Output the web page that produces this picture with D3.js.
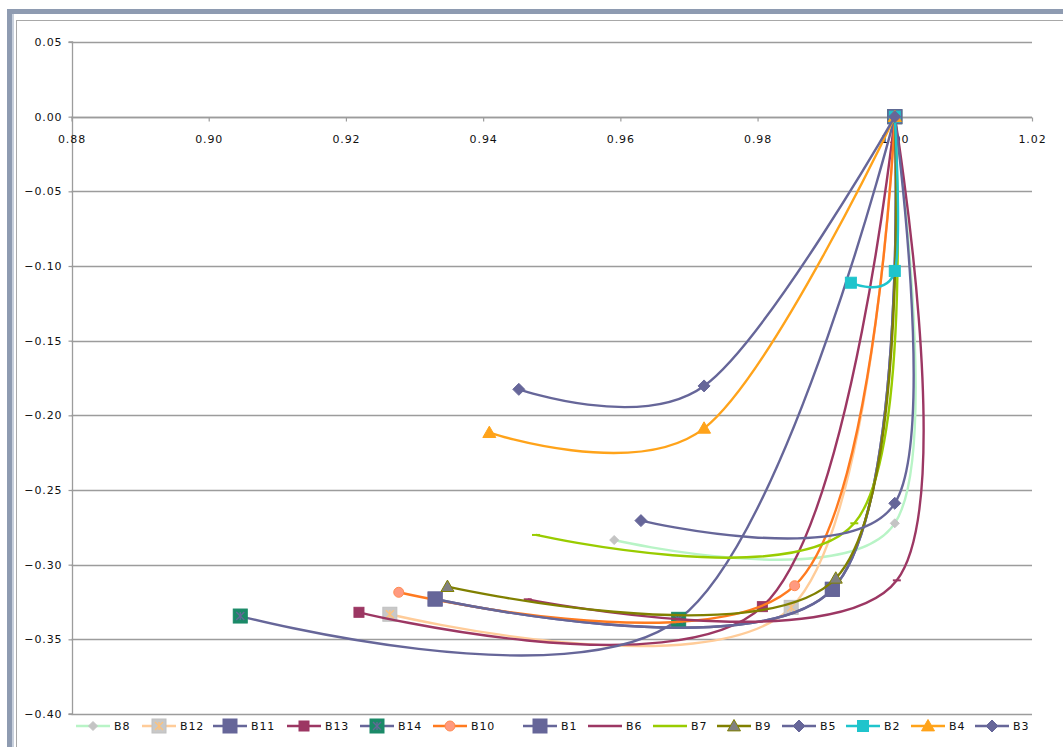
<!DOCTYPE html>
<html>
<head>
<meta charset="utf-8">
<script src="https://cdn.jsdelivr.net/npm/d3@7"></script>
<style>
  html, body { margin: 0; padding: 0; background: #fff; }
  svg { display: block; }
  text { font-family: "DejaVu Sans", Verdana, sans-serif; font-size: 11px; fill: #111; letter-spacing: 0.9px; }
</style>
</head>
<body>
<svg id="chart" width="1063" height="747"></svg>
<script>
// ---- data ----
const seriesNames = ["B8","B12","B11","B13","B14","B10","B1","B6","B7","B9","B5","B2","B4","B3"];
const xTicks = [0.88, 0.90, 0.92, 0.94, 0.96, 0.98, 1.00, 1.02];
const yTicks = [0.05, 0.00, -0.05, -0.10, -0.15, -0.20, -0.25, -0.30, -0.35, -0.40];

const b8  = [[0.9591,-0.2835],[1.0000,-0.2723],[1.0,0.0]];
const b12 = [[0.9264,-0.3332],[0.9849,-0.3286],[1.0,0.0]];
const b11 = [[0.9330,-0.3230],[0.9909,-0.3165],[1.0,0.0]];
const b13 = [[0.9219,-0.3319],[0.9807,-0.3281],[1.0,0.0]];
const b14 = [[0.9046,-0.3344],[0.9685,-0.3366],[1.0,0.0]];
const b10 = [[0.9277,-0.3185],[0.9854,-0.3141],[1.0,0.0]];
const b1  = [[0.9330,-0.3230],[0.9909,-0.3165],[1.0,0.0]];
const b6  = [[0.9465,-0.3232],[1.0003,-0.3105],[1.0,0.0]];
const b7  = [[0.9477,-0.2801],[0.9941,-0.2723],[1.0,0.0]];
const b9  = [[0.9348,-0.3147],[0.9914,-0.3091],[1.0,0.0]];
const b5  = [[0.9630,-0.2705],[1.0000,-0.2589],[1.0,0.0]];
const b2  = [[0.9936,-0.1112],[1.0000,-0.1033],[1.0,0.0]];
const b4  = [[0.9409,-0.2116],[0.9722,-0.2087],[1.0,0.0]];
const b3  = [[0.9452,-0.1826],[0.9722,-0.1803],[1.0,0.0]];
const seriesPoints = [b8,b12,b11,b13,b14,b10,b1,b6,b7,b9,b5,b2,b4,b3];

// ---- styles ----
const styles = {
  B8:  {line:"#b8f4c6", marker:"diamond", size:9,  fill:"#c4c4c4", stroke:"#c4c4c4"},
  B12: {line:"#ffcc99", marker:"starsq",  size:14, fill:"#c8c8c8", stroke:"#c0c0c0", star:"#ffc27a"},
  B11: {line:"#666699", marker:"square",  size:14, fill:"#666699", stroke:"#666699"},
  B13: {line:"#9c3763", marker:"square",  size:10, fill:"#9c3763", stroke:"#9c3763"},
  B14: {line:"#666699", marker:"starsq",  size:14, fill:"#1b8a68", stroke:"#1b8a68", star:"#666699"},
  B10: {line:"#ff7a1f", marker:"circle",  size:10, fill:"#ff9a80", stroke:"#ff8a50"},
  B1:  {line:"#666699", marker:"square",  size:14, fill:"#666699", stroke:"#666699"},
  B6:  {line:"#9c3763", marker:"dash",    size:8,  fill:"#9c3763", stroke:"#9c3763"},
  B7:  {line:"#99cc00", marker:"dash",    size:8,  fill:"#99cc00", stroke:"#99cc00"},
  B9:  {line:"#808000", marker:"triangle",size:13, fill:"#808080", stroke:"#808000"},
  B5:  {line:"#666699", marker:"diamond", size:12, fill:"#666699", stroke:"#666699"},
  B2:  {line:"#1fc4cc", marker:"square",  size:11, fill:"#1fc4cc", stroke:"#1fc4cc"},
  B4:  {line:"#ffa31a", marker:"triangle",size:13, fill:"#ffa31a", stroke:"#ffa31a"},
  B3:  {line:"#666699", marker:"diamond", size:12, fill:"#666699", stroke:"#666699"}
};

const svg = d3.select("#chart");

// ---- window frame ----
svg.append("rect").attr("x",7).attr("y",9).attr("width",1056).attr("height",5).attr("fill","#8e9bb1");
svg.append("rect").attr("x",7).attr("y",9).attr("width",5).attr("height",738).attr("fill","#8e9bb1");
svg.append("rect").attr("x",12).attr("y",14).attr("width",2).attr("height",733).attr("fill","#c8d0dc");
svg.append("line").attr("x1",16).attr("x2",1063).attr("y1",20.5).attr("y2",20.5).attr("stroke","#a8a8a8").attr("stroke-width",1);
svg.append("line").attr("x1",16.5).attr("x2",16.5).attr("y1",20).attr("y2",747).attr("stroke","#a8a8a8").attr("stroke-width",1);

// ---- scales ----
const x = d3.scaleLinear().domain([0.88, 1.02]).range([71.5, 1032]);
const y = d3.scaleLinear().domain([-0.40, 0.05]).range([714, 42]);

const labelFont = '"DejaVu Sans", Verdana, sans-serif';

// gridlines
svg.append("g").selectAll("line").data(yTicks).join("line")
  .attr("x1", x(0.88)).attr("x2", x(1.02))
  .attr("y1", d => Math.round(y(d)) + 0.5).attr("y2", d => Math.round(y(d)) + 0.5)
  .attr("stroke", "#9c9c9c").attr("stroke-width", 1.3);

// y axis
const yAxis = d3.axisLeft(y).tickValues(yTicks).tickFormat(d3.format(".2f")).tickSize(4).tickPadding(6);
const gy = svg.append("g").attr("transform", `translate(${Math.round(x(0.88))+0.5},0)`).call(yAxis);
gy.select(".domain").attr("stroke", "#9c9c9c").attr("stroke-width", 1.3).attr("d", `M-4,${y(0.05)}H0V${y(-0.40)}H-4`);
gy.selectAll(".tick line").attr("stroke", "#9c9c9c").attr("stroke-width", 1.2);
gy.selectAll(".tick text").attr("fill", "#111").style("font-family", labelFont).style("font-size", "11px");

// x axis at y = 0
const xAxis = d3.axisBottom(x).tickValues(xTicks).tickFormat(d3.format(".2f")).tickSize(4).tickPadding(14);
const gx = svg.append("g").attr("transform", `translate(0,${Math.round(y(0))+0.5})`).call(xAxis);
gx.select(".domain").attr("stroke", "#9c9c9c").attr("stroke-width", 1.3).attr("d", `M${x(0.88)},0H${x(1.02)}`);
gx.selectAll(".tick line").attr("stroke", "#9c9c9c").attr("stroke-width", 1.2);
gx.selectAll(".tick text").attr("fill", "#111").style("font-family", labelFont).style("font-size", "11px");

// ---- marker drawing ----
function drawMarker(g, st, cx, cy) {
  const s = st.size, h = s / 2;
  if (st.marker === "square" || st.marker === "starsq") {
    g.append("rect").attr("x", cx - h).attr("y", cy - h).attr("width", s).attr("height", s)
      .attr("fill", st.fill).attr("stroke", st.stroke).attr("stroke-width", 1);
    if (st.marker === "starsq") {
      const r = h - 3;
      const star = g.append("g").attr("stroke", st.star).attr("stroke-width", 1.3);
      star.append("line").attr("x1", cx).attr("x2", cx).attr("y1", cy - r).attr("y2", cy + r);
      star.append("line").attr("x1", cx - r).attr("x2", cx + r).attr("y1", cy - r).attr("y2", cy + r);
      star.append("line").attr("x1", cx - r).attr("x2", cx + r).attr("y1", cy + r).attr("y2", cy - r);
    }
  } else if (st.marker === "diamond") {
    g.append("path").attr("d", `M${cx},${cy-h}L${cx+h},${cy}L${cx},${cy+h}L${cx-h},${cy}Z`)
      .attr("fill", st.fill).attr("stroke", st.stroke).attr("stroke-width", 1);
  } else if (st.marker === "circle") {
    g.append("circle").attr("cx", cx).attr("cy", cy).attr("r", h)
      .attr("fill", st.fill).attr("stroke", st.stroke).attr("stroke-width", 1);
  } else if (st.marker === "triangle") {
    g.append("path").attr("d", `M${cx},${cy-h}L${cx+h},${cy+h*0.75}L${cx-h},${cy+h*0.75}Z`)
      .attr("fill", st.fill).attr("stroke", st.stroke).attr("stroke-width", 1);
  } else if (st.marker === "dash") {
    g.append("line").attr("x1", cx - h).attr("x2", cx + h).attr("y1", cy).attr("y2", cy)
      .attr("stroke", st.stroke).attr("stroke-width", 2);
  }
}

// ---- series ----
const lineGen = d3.line().x(d => x(d[0])).y(d => y(d[1])).curve(d3.curveCardinal.tension(0));
const plot = svg.append("g");
seriesNames.forEach((name, i) => {
  const st = styles[name];
  const g = plot.append("g").attr("class", "series " + name);
  g.append("path").datum(seriesPoints[i]).attr("d", lineGen)
    .attr("fill", "none").attr("stroke", st.line).attr("stroke-width", 2.4)
    .attr("stroke-linejoin", "round");
  seriesPoints[i].forEach(p => drawMarker(g, st, x(p[0]), y(p[1])));
});

// ---- legend ----
const legendX = [76, 142, 213, 287, 360, 433, 523, 588, 653, 717, 782, 846, 911, 975];
const legendY = 726;
const lg = svg.append("g");
seriesNames.forEach((name, i) => {
  const st = styles[name];
  const x0 = legendX[i];
  const g = lg.append("g");
  g.append("line").attr("x1", x0).attr("x2", x0 + 34).attr("y1", legendY).attr("y2", legendY)
    .attr("stroke", st.line).attr("stroke-width", 2.4);
  drawMarker(g, st, x0 + 17, legendY);
  g.append("text").attr("x", x0 + 38).attr("y", legendY).attr("dy", "0.36em").text(name);
});
</script>
</body>
</html>
